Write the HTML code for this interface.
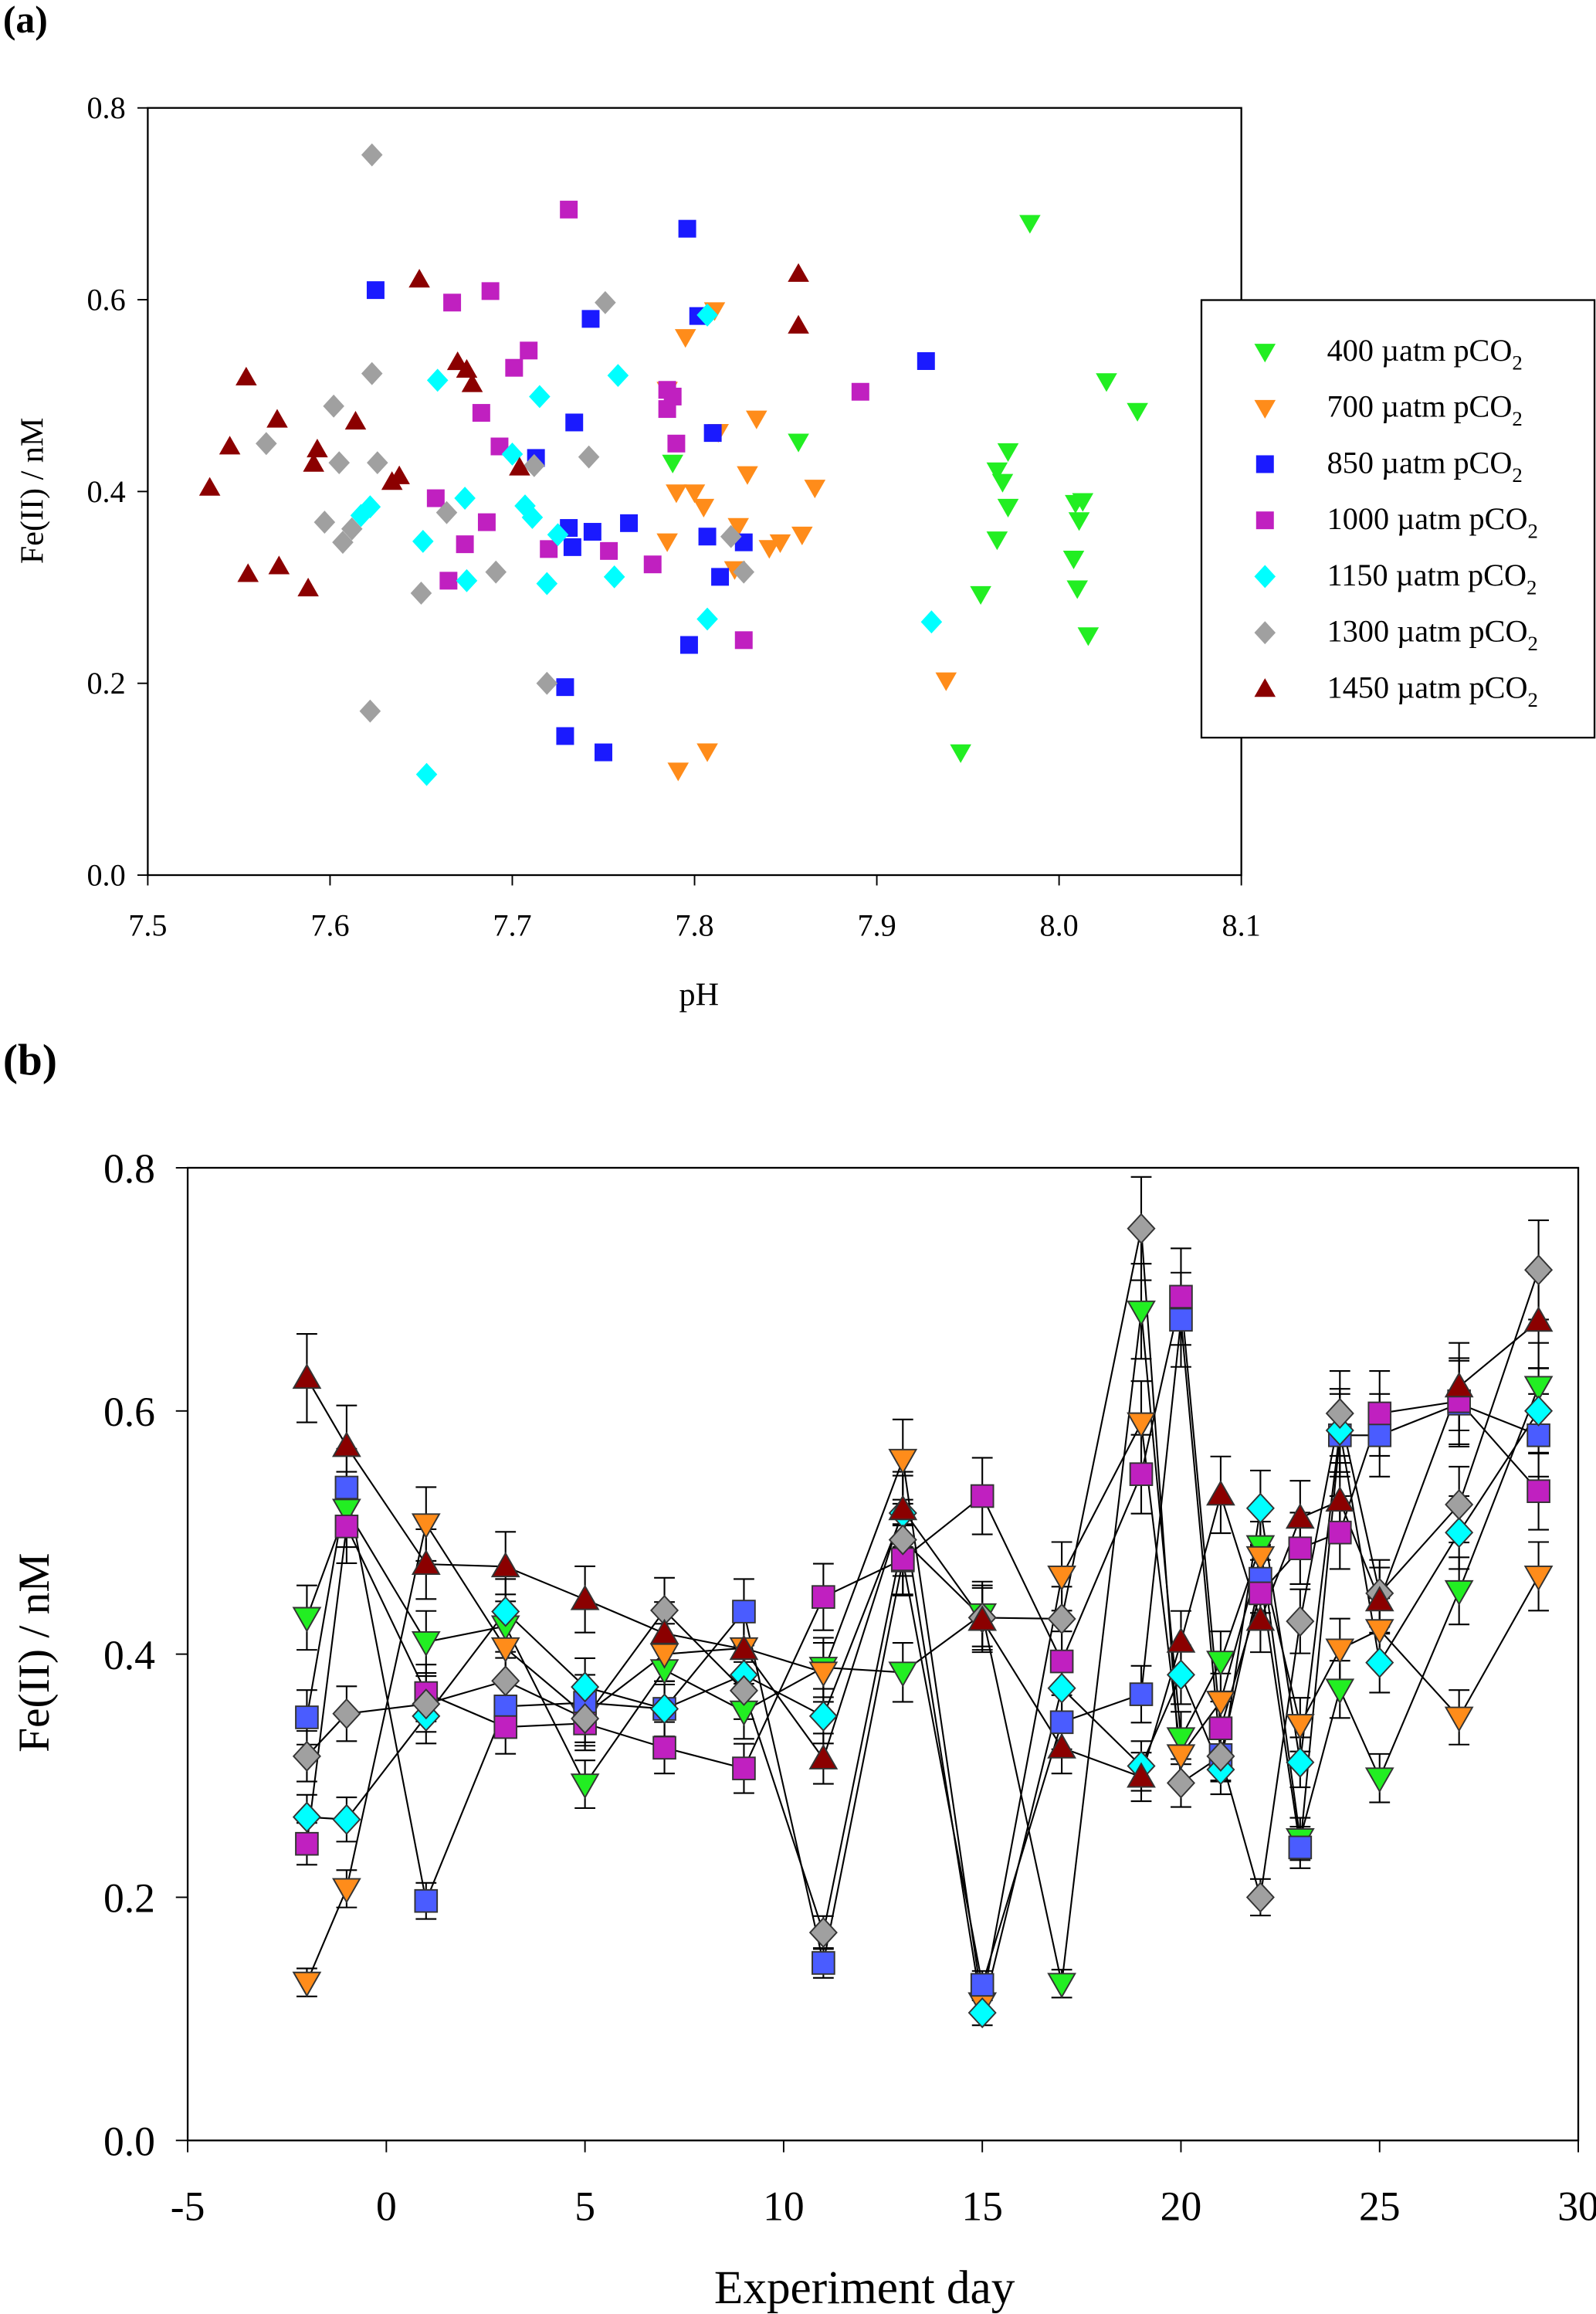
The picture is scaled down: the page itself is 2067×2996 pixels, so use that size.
<!DOCTYPE html>
<html><head><meta charset="utf-8"><style>
html,body{margin:0;padding:0;background:#fff}
svg{display:block;font-family:"Liberation Serif",serif}
</style></head><body>
<svg id="fig" width="2067" height="2996" viewBox="0 0 1080 1565.4" xmlns="http://www.w3.org/2000/svg">
<rect width="1080" height="1566" fill="#fff"/>
<text x="2" y="22" font-size="26" font-weight="bold">(a)</text>
<text x="2" y="727" font-size="30" font-weight="bold">(b)</text>
<g id="pa"></g>
<g id="pb"></g>
</svg>
<script>
const NS="http://www.w3.org/2000/svg";
const seriesNames=["400 µatm pCO","700 µatm pCO","850 µatm pCO","1000 µatm pCO","1150 µatm pCO","1300 µatm pCO","1450 µatm pCO"];
const seriesColors=["#22ee22","#ff8c1a","#1a1aff","#c020c0","#00ffff","#a0a0a0","#8b0000"];
const seriesColorsB=["#22ee22","#ff8c1a","#4a5cff","#c020c0","#00ffff","#a0a0a0","#8b0000"];
const seriesShapes=["tdown","tdown","square","square","diamond","diamond","tup"];
// Panel (a) data: [pH, Fe]
const aGreen=[[7.788,0.430],[7.857,0.452],[7.984,0.680],[8.026,0.515],[8.043,0.484],[7.966,0.422],[7.972,0.442],[7.969,0.410],[7.972,0.384],[7.966,0.350],[7.957,0.293],[7.946,0.128],[8.009,0.388],[8.011,0.370],[8.013,0.390],[8.008,0.330],[8.010,0.299],[8.016,0.250]];
const aOrange=[[7.795,0.561],[7.811,0.589],[7.785,0.506],[7.790,0.399],[7.800,0.399],[7.805,0.384],[7.813,0.462],[7.834,0.476],[7.829,0.418],[7.866,0.404],[7.859,0.355],[7.847,0.347],[7.841,0.341],[7.824,0.364],[7.822,0.319],[7.785,0.348],[7.938,0.203],[7.791,0.109],[7.807,0.129]];
const aBlue=[[7.625,0.610],[7.796,0.674],[7.802,0.583],[7.927,0.536],[7.743,0.580],[7.810,0.461],[7.734,0.472],[7.713,0.435],[7.764,0.367],[7.744,0.358],[7.731,0.362],[7.733,0.342],[7.807,0.353],[7.827,0.347],[7.814,0.311],[7.797,0.240],[7.729,0.196],[7.729,0.145],[7.750,0.128]];
const aMagenta=[[7.731,0.694],[7.688,0.609],[7.667,0.597],[7.709,0.547],[7.701,0.529],[7.785,0.506],[7.788,0.499],[7.891,0.504],[7.683,0.482],[7.785,0.486],[7.790,0.450],[7.693,0.447],[7.658,0.393],[7.686,0.368],[7.674,0.345],[7.720,0.340],[7.753,0.338],[7.777,0.324],[7.665,0.307],[7.827,0.245]];
const aCyan=[[7.807,0.584],[7.758,0.521],[7.659,0.516],[7.715,0.499],[7.700,0.439],[7.707,0.385],[7.711,0.373],[7.674,0.393],[7.622,0.384],[7.617,0.375],[7.725,0.355],[7.651,0.348],[7.756,0.311],[7.719,0.304],[7.675,0.307],[7.930,0.264],[7.807,0.267],[7.653,0.105]];
const aGray=[[7.623,0.751],[7.751,0.597],[7.623,0.523],[7.602,0.489],[7.565,0.450],[7.626,0.430],[7.605,0.430],[7.712,0.427],[7.742,0.436],[7.664,0.378],[7.597,0.368],[7.612,0.361],[7.607,0.347],[7.820,0.353],[7.691,0.316],[7.827,0.316],[7.650,0.294],[7.719,0.200],[7.622,0.171]];
const aRed=[[7.857,0.627],[7.649,0.621],[7.857,0.573],[7.670,0.535],[7.675,0.527],[7.678,0.512],[7.554,0.519],[7.571,0.475],[7.614,0.473],[7.545,0.447],[7.593,0.444],[7.591,0.429],[7.638,0.416],[7.634,0.410],[7.704,0.425],[7.534,0.404],[7.555,0.314],[7.572,0.322],[7.588,0.299]];
const aSeries=[aGreen,aOrange,aBlue,aMagenta,aCyan,aGray,aRed];
const aXTicks=[7.5,7.6,7.7,7.8,7.9,8.0,8.1];
const aYTicks=[0.0,0.2,0.4,0.6,0.8];
// Panel (b)
const days=[-2,-1,1,3,5,7,9,11,13,15,17,19,20,21,22,23,24,25,27,29];
const bGreen=[0.430,0.519,0.410,0.423,0.293,0.387,0.353,0.389,0.385,0.433,0.129,0.682,0.331,0.394,0.489,0.248,0.371,0.298,0.452,0.620];
const bOrange=[0.130,0.207,0.507,0.405,0.350,0.400,0.405,0.385,0.560,0.113,0.464,0.590,0.317,0.361,0.480,0.342,0.404,0.420,0.348,0.464];
const bBlue=[0.348,0.537,0.197,0.357,0.360,0.355,0.435,0.146,0.477,0.128,0.344,0.367,0.675,0.317,0.462,0.241,0.580,0.580,0.606,0.580];
const bMagenta=[0.244,0.505,0.368,0.340,0.343,0.323,0.306,0.447,0.478,0.530,0.394,0.548,0.694,0.339,0.450,0.487,0.500,0.598,0.608,0.534];
const bCyan=[0.266,0.264,0.349,0.435,0.373,0.355,0.383,0.349,0.516,0.105,0.372,0.308,0.383,0.305,0.520,0.311,0.584,0.393,0.500,0.600];
const bGray=[0.316,0.351,0.359,0.378,0.347,0.436,0.370,0.171,0.494,0.430,0.429,0.750,0.294,0.316,0.200,0.427,0.598,0.450,0.523,0.716];
const bRed=[0.627,0.571,0.474,0.472,0.445,0.417,0.404,0.314,0.519,0.428,0.323,0.299,0.410,0.531,0.428,0.512,0.526,0.444,0.620,0.674];
const bSeries=[bGreen,bOrange,bBlue,bMagenta,bCyan,bGray,bRed];
const errFrac=0.05;
const bXTicks=[-5,0,5,10,15,20,25,30];
const bYTicks=[0.0,0.2,0.4,0.6,0.8];

function el(tag,attrs,parent,text){const e=document.createElementNS(NS,tag);for(const k in attrs)e.setAttribute(k,attrs[k]);if(text!==undefined)e.textContent=text;parent.appendChild(e);return e;}
function marker(parent,shape,cx,cy,s,fill,stroke){
  let e;
  if(shape==="square")e=el("rect",{x:cx-s/2,y:cy-s/2,width:s,height:s,fill:fill},parent);
  else{let p;
    if(shape==="tdown")p=[[cx-s*0.6,cy-s*0.45],[cx+s*0.6,cy-s*0.45],[cx,cy+s*0.6]];
    else if(shape==="tup")p=[[cx-s*0.6,cy+s*0.45],[cx+s*0.6,cy+s*0.45],[cx,cy-s*0.6]];
    else p=[[cx,cy-s*0.65],[cx+s*0.6,cy],[cx,cy+s*0.65],[cx-s*0.6,cy]];
    e=el("polygon",{points:p.map(q=>q.join(",")).join(" "),fill:fill},parent);}
  if(stroke){e.setAttribute("stroke",stroke);e.setAttribute("stroke-width","1");}
  return e;
}
// Panel a
const pa=document.getElementById("pa");
const axL=100,axR=840,axT=73,axB=592;
const xa=v=>axL+(v-7.5)/0.6*(axR-axL);
const ya=v=>axB-v/0.8*(axB-axT);
el("rect",{x:axL,y:axT,width:axR-axL,height:axB-axT,fill:"none",stroke:"#000","stroke-width":1.2},pa);
aXTicks.forEach(t=>{el("line",{x1:xa(t),x2:xa(t),y1:axB,y2:axB+7,stroke:"#000"},pa);
  const tx=el("text",{x:xa(t),y:633,"font-size":21,"text-anchor":"middle"},pa,t.toFixed(1));
  });
aYTicks.forEach(t=>{el("line",{x1:axL-7,x2:axL,y1:ya(t),y2:ya(t),stroke:"#000"},pa);
  const tx=el("text",{x:85,y:ya(t)+7,"font-size":21,"text-anchor":"end"},pa,t.toFixed(1));
  });
let t1=el("text",{x:473,y:680,"font-size":22,"text-anchor":"middle"},pa,"pH");

let t2=el("text",{x:0,y:0,"font-size":22,"text-anchor":"middle",transform:"translate(29,332) rotate(-90)"},pa,"Fe(II) / nM");

aSeries.forEach((ser,i)=>{ser.forEach(d=>{const m=marker(pa,seriesShapes[i],xa(d[0]),ya(d[1]),12,seriesColors[i]);
  });});
// legend
const lg=el("g",{},pa);

el("rect",{x:813,y:203,width:266,height:296,fill:"#fff",stroke:"#000","stroke-width":1.2},lg);
seriesNames.forEach((n,i)=>{const yy=236+i*38;
  const g=el("g",{},lg);
  marker(g,seriesShapes[i],856,yy+2,12,seriesColors[i]);
  const t=el("text",{x:898,y:yy+8,"font-size":21},g,n);
  el("tspan",{"font-size":14,dy:6},t,"2");});
// Panel b
const pb=document.getElementById("pb");
const bL=127,bR=1068,bT=790,bB=1448;
const xb=v=>bL+(v+5)/35*(bR-bL);
const yb=v=>bB-v/0.8*(bB-bT);
el("rect",{x:bL,y:bT,width:bR-bL,height:bB-bT,fill:"none",stroke:"#000","stroke-width":1.2},pb);
bXTicks.forEach(t=>{el("line",{x1:xb(t),x2:xb(t),y1:bB,y2:bB+8,stroke:"#000"},pb);
  const tx=el("text",{x:xb(t),y:1502,"font-size":28,"text-anchor":"middle"},pb,String(t));
  });
bYTicks.forEach(t=>{el("line",{x1:bL-8,x2:bL,y1:yb(t),y2:yb(t),stroke:"#000"},pb);
  const tx=el("text",{x:105,y:yb(t)+10,"font-size":28,"text-anchor":"end"},pb,t.toFixed(1));
  });
let t3=el("text",{x:585,y:1558,"font-size":32,"text-anchor":"middle"},pb,"Experiment day");

let t4=el("text",{x:0,y:0,"font-size":30,"text-anchor":"middle",transform:"translate(33,1118) rotate(-90)"},pb,"Fe(II) / nM");

bSeries.forEach((ser,i)=>{const pl=el("polyline",{points:days.map((d,j)=>xb(d)+","+yb(ser[j])).join(" "),fill:"none",stroke:"#000","stroke-width":1.1},pb);
  });
bSeries.forEach((ser,i)=>{days.forEach((d,j)=>{const e=ser[j]*errFrac+0.005;const x=xb(d);
  const g=el("g",{stroke:"#000","stroke-width":1.1},pb);
  
  el("line",{x1:x,x2:x,y1:yb(ser[j]-e),y2:yb(ser[j]+e)},g);
  el("line",{x1:x-7,x2:x+7,y1:yb(ser[j]-e),y2:yb(ser[j]-e)},g);
  el("line",{x1:x-7,x2:x+7,y1:yb(ser[j]+e),y2:yb(ser[j]+e)},g);});});
bSeries.forEach((ser,i)=>{days.forEach((d,j)=>{const m=marker(pb,seriesShapes[i],xb(d),yb(ser[j]),15,seriesColorsB[i],"#333");
  });});
</script>
</body></html>
